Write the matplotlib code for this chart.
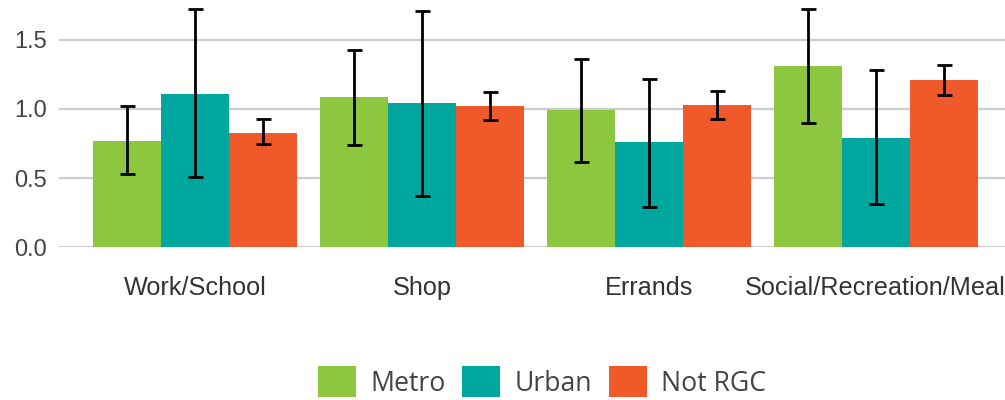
import matplotlib
matplotlib.use("Agg")
import matplotlib.pyplot as plt
import numpy as np

categories = ["Work/School", "Shop", "Errands", "Social/Recreation/Meal"]
series = ["Metro", "Urban", "Not RGC"]
colors = ["#8DC63F", "#00A79F", "#F05A2A"]

metro = [0.77, 1.09, 0.99, 1.31]
metro_lo = [0.53, 0.74, 0.62, 0.90]
metro_hi = [1.02, 1.43, 1.36, 1.72]

urban = [1.11, 1.04, 0.76, 0.79]
urban_lo = [0.51, 0.37, 0.29, 0.31]
urban_hi = [1.72, 1.71, 1.22, 1.28]

notrgc = [0.83, 1.02, 1.03, 1.21]
notrgc_lo = [0.75, 0.92, 0.93, 1.10]
notrgc_hi = [0.93, 1.12, 1.13, 1.32]

values = [metro, urban, notrgc]
lows = [metro_lo, urban_lo, notrgc_lo]
highs = [metro_hi, urban_hi, notrgc_hi]

fig = plt.figure(figsize=(10.05, 4.0), dpi=100)
ax = fig.add_axes([59 / 1005, 152.7 / 400, 1 - 59 / 1005, 247.3 / 400])

x = np.arange(len(categories))
w = 0.3
for i, (name, vals, lo, hi, c) in enumerate(zip(series, values, lows, highs, colors)):
    pos = x + (i - 1) * w
    vals = np.array(vals)
    yerr = np.vstack([vals - np.array(lo), np.array(hi) - vals])
    ax.bar(pos, vals, width=w, color=c, label=name, zorder=2)
    ax.errorbar(pos, vals, yerr=yerr, fmt="none", ecolor="black",
                elinewidth=2, capsize=5.4, capthick=2, zorder=3)

ax.set_xlim(-0.6, 3.57)
ax.set_ylim(0, 1.788)
ax.set_yticks([0.0, 0.5, 1.0, 1.5])
ax.set_yticklabels(["0.0", "0.5", "1.0", "1.5"])
ax.set_xticks(x)
ax.set_xticklabels(categories)
ax.yaxis.grid(True, color="#cccccc", linewidth=1.6, zorder=0)
ax.set_axisbelow(True)
for s in ax.spines.values():
    s.set_visible(False)
ax.tick_params(axis="both", length=0)
ax.tick_params(axis="x", pad=20.5, labelsize=18.2, labelcolor="#333333")
ax.tick_params(axis="y", pad=9, labelsize=17, labelcolor="#444444")
for lab in ax.get_xticklabels() + ax.get_yticklabels():
    lab.set_fontfamily("Liberation Sans")

leg = fig.legend(loc="center", bbox_to_anchor=(542 / 1005, 18 / 400), ncol=3,
                 frameon=False, prop={"family": "Open Sans", "size": 19.2},
                 handlelength=1.42, handleheight=1.42, handletextpad=0.55,
                 columnspacing=0.62, borderpad=0, borderaxespad=0)
for t in leg.get_texts():
    t.set_color("#444444")

fig.savefig("out.png", dpi=100)
